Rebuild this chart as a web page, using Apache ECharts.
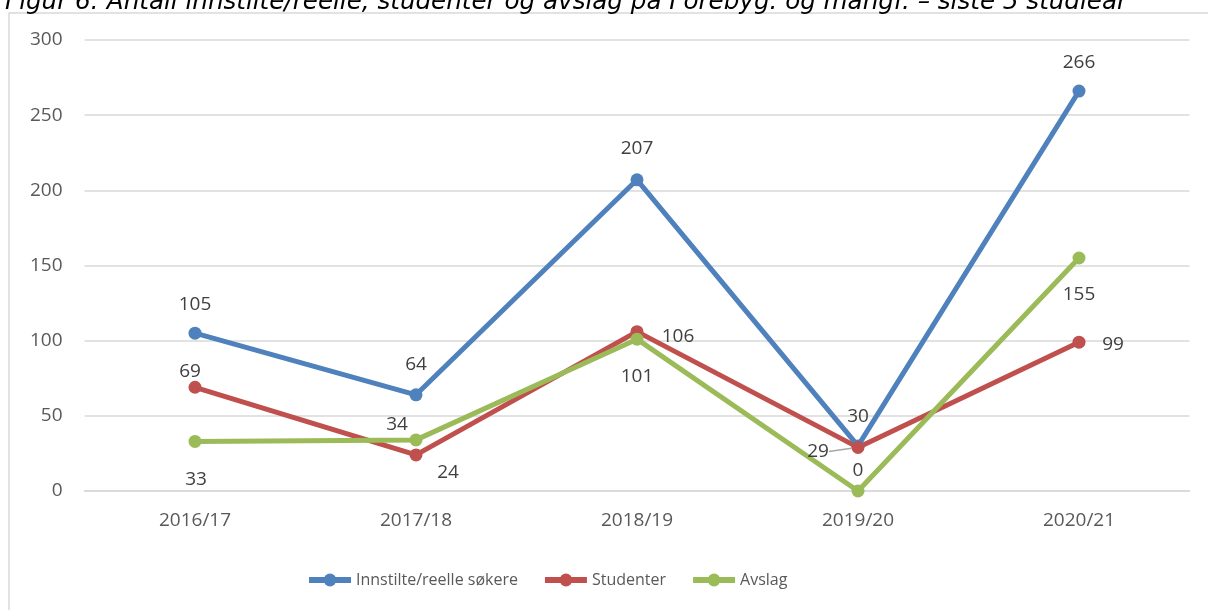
<!DOCTYPE html>
<html>
<head>
<meta charset="utf-8">
<script src="https://cdn.jsdelivr.net/npm/echarts@6/dist/echarts.min.js"></script>
<style>
  html, body { margin: 0; padding: 0; background: #fff; }
  #chart { width: 1208px; height: 610px; }
</style>
</head>
<body>
<div id="chart"></div>
<script>
const years = ["2016/17", "2017/18", "2018/19", "2019/20", "2020/21"];
const innstilte = [105, 64, 207, 30, 266];
const studenter = [69, 24, 106, 29, 99];
const avslag = [33, 34, 101, 0, 155];

// label offsets from the point centre, same order as the data
const offInnstilte = [[0, -29], [0, -30], [0, -31], [0, -29], [0, -29]];
const offStudenter = [[-5, -16], [32, 18], [41, 5], [-40, 4], [34, 2]];
const offAvslag = [[1, 38], [-19, -15], [0, 37], [0, -20], [0, 37]];
// which labels get a small leader line
const leaderStudenter = [false, false, false, true, false];

const font = "'Open Sans', sans-serif";
const textColor = "#404040";

function makeSeries(name, values, color, offsets, leaders) {
  return {
    name: name,
    type: "line",
    data: values.map((v, i) => ({
      value: v,
      labelLine: {
        show: !!(leaders && leaders[i]),
        lineStyle: { color: "#a6a6a6", width: 1.5 }
      }
    })),
    symbol: "circle",
    symbolSize: 13,
    lineStyle: { width: 5, color: color },
    itemStyle: { color: color },
    labelLayout: function (p) {
      const o = offsets[p.dataIndex];
      return { dx: o[0], dy: o[1] };
    },
    label: {
      show: true,
      position: "inside",
      color: textColor,
      fontSize: 19,
      fontFamily: font
    }
  };
}

const chart = echarts.init(document.getElementById("chart"));

const series = [
  makeSeries("Innstilte/reelle søkere", innstilte, "#4F81BD", offInnstilte),
  makeSeries("Studenter", studenter, "#C0504D", offStudenter, leaderStudenter),
  makeSeries("Avslag", avslag, "#9BBB59", offAvslag)
];

chart.setOption({
  backgroundColor: "#fff",
  animation: false,
  title: {
    text: "Figur 6: Antall innstilte/reelle, studenter og avslag på Forebyg. og mangf. – siste 5 studieår",
    left: 0,
    top: -15,
    textStyle: {
      fontFamily: "'DejaVu Sans', sans-serif",
      fontStyle: "italic",
      fontWeight: "normal",
      fontSize: 24.6,
      color: "#000"
    }
  },
  graphic: [{
    type: "rect",
    shape: { x: 9, y: 13, width: 1210, height: 610 },
    style: { fill: "none", stroke: "#d9d9d9", lineWidth: 1.5 },
    silent: true
  }],
  grid: { left: 84.5, right: 18.5, top: 40, bottom: 119 },
  legend: {
    bottom: 17,
    left: 301,
    itemWidth: 42,
    itemHeight: 16,
    itemGap: 24,
    lineStyle: { width: 6 },
    textStyle: { color: "#595959", fontSize: 16, fontFamily: font },
    data: series.map(s => s.name)
  },
  xAxis: {
    type: "category",
    data: years,
    boundaryGap: true,
    axisLine: { lineStyle: { color: "#d9d9d9", width: 1.5 } },
    axisTick: { show: false },
    axisLabel: { color: "#595959", fontSize: 19, fontFamily: font, margin: 20 }
  },
  yAxis: {
    type: "value",
    min: 0,
    max: 300,
    interval: 50,
    axisLine: { show: false },
    axisTick: { show: false },
    axisLabel: { color: "#595959", fontSize: 19, fontFamily: font, margin: 22 },
    splitLine: { lineStyle: { color: "#d9d9d9", width: 1.5 } }
  },
  series: series
});
</script>
</body>
</html>
